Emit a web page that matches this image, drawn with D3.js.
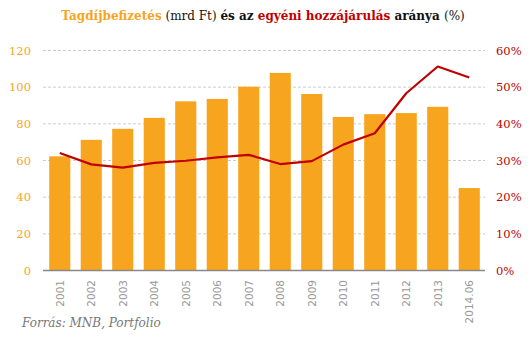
<!DOCTYPE html>
<html>
<head>
<meta charset="utf-8">
<script src="https://cdn.jsdelivr.net/npm/d3@7"></script>
<style>
  body { margin: 0; background: #fff; }
  svg { display: block; }
</style>
</head>
<body>
<svg id="chart" width="531" height="342"></svg>
<script>
// data
var years = ["2001","2002","2003","2004","2005","2006","2007","2008","2009","2010","2011","2012","2013","2014.06"];
var payments = [62, 71, 77, 83, 92, 93.3, 100, 107.5, 96, 83.5, 85, 85.6, 89, 44.7];   // mrd Ft
var ratio = [31.9, 28.8, 27.9, 29.2, 29.8, 30.7, 31.4, 28.9, 29.7, 34.2, 37.3, 48.2, 55.5, 52.5]; // %
var leftTicks = [0, 20, 40, 60, 80, 100, 120];
var rightTicks = [0, 10, 20, 30, 40, 50, 60];

var ORANGE = "#f7a51e", RED = "#c00000";
var serif = "'DejaVu Serif', Georgia, 'Liberation Serif', serif";

var svg = d3.select("#chart");
var plotL = 44, plotR = 485, plotT = 50, plotB = 270;

var x = d3.scaleBand().domain(years).range([plotL, plotR]).paddingInner(0.33).paddingOuter(0.165);
var y = d3.scaleLinear().domain([0, 120]).range([plotB, plotT]);
var y2 = d3.scaleLinear().domain([0, 60]).range([plotB, plotT]);

// gridlines
svg.append("g").selectAll("line").data(leftTicks.slice(1)).join("line")
  .attr("x1", plotL - 1).attr("x2", plotR)
  .attr("y1", function(d){ return y(d) + 0.5; }).attr("y2", function(d){ return y(d) + 0.5; })
  .attr("stroke", "#ccc").attr("stroke-dasharray", "3,2");

// bars
svg.append("g").selectAll("rect").data(payments).join("rect")
  .attr("x", function(d, i){ return x(years[i]); })
  .attr("width", x.bandwidth())
  .attr("y", function(d){ return y(d); })
  .attr("height", function(d){ return y(0) - y(d); })
  .attr("fill", ORANGE);

// baseline
svg.append("line").attr("x1", plotL - 1).attr("x2", plotR)
  .attr("y1", plotB + 0.5).attr("y2", plotB + 0.5)
  .attr("stroke", "#888").attr("stroke-width", 1.5);

// ratio line
var line = d3.line()
  .x(function(d, i){ return x(years[i]) + x.bandwidth() / 2; })
  .y(function(d){ return y2(d); });
svg.append("path").datum(ratio)
  .attr("d", line).attr("fill", "none")
  .attr("stroke", RED).attr("stroke-width", 2.2).attr("stroke-linejoin", "round");

// left axis
var yAxis = d3.axisLeft(y).tickValues(leftTicks).tickSize(0).tickPadding(0);
svg.append("g").attr("transform", "translate(31,0)").call(yAxis)
  .call(function(g){ g.select(".domain").remove(); })
  .selectAll("text").attr("fill", ORANGE).style("font", "11.5px " + serif).attr("dy", "0.35em");

// right axis
var y2Axis = d3.axisRight(y2).tickValues(rightTicks).tickSize(0).tickPadding(0)
  .tickFormat(function(d){ return d + "%"; });
svg.append("g").attr("transform", "translate(496,0)").call(y2Axis)
  .call(function(g){ g.select(".domain").remove(); })
  .selectAll("text").attr("fill", RED).style("font", "11.5px " + serif).attr("dy", "0.35em");

// x labels
svg.append("g").selectAll("text").data(years).join("text")
  .attr("transform", function(d){ return "translate(" + (x(d) + x.bandwidth() / 2 + 4) + ",280) rotate(-90)"; })
  .attr("text-anchor", "end")
  .attr("fill", "#999")
  .style("font", "10.5px 'DejaVu Sans', Verdana, sans-serif")
  .text(function(d){ return d; });

// title
var title = svg.append("text").attr("x", 263).attr("y", 20).attr("text-anchor", "middle")
  .style("font", "12px " + serif);
var parts = [
  ["Tagdíjbefizetés", ORANGE, "bold"],
  [" (mrd Ft) ", "#111", "normal"],
  ["és az ", "#111", "bold"],
  ["egyéni hozzájárulás", RED, "bold"],
  [" aránya ", "#111", "bold"],
  ["(%)", "#111", "normal"]
];
title.selectAll("tspan").data(parts).join("tspan")
  .attr("fill", function(d){ return d[1]; })
  .attr("font-weight", function(d){ return d[2]; })
  .text(function(d){ return d[0]; });

// source
svg.append("text").attr("x", 22).attr("y", 327)
  .attr("fill", "#777").style("font", "italic 12px " + serif)
  .text("Forrás: MNB, Portfolio");
</script>
</body>
</html>
